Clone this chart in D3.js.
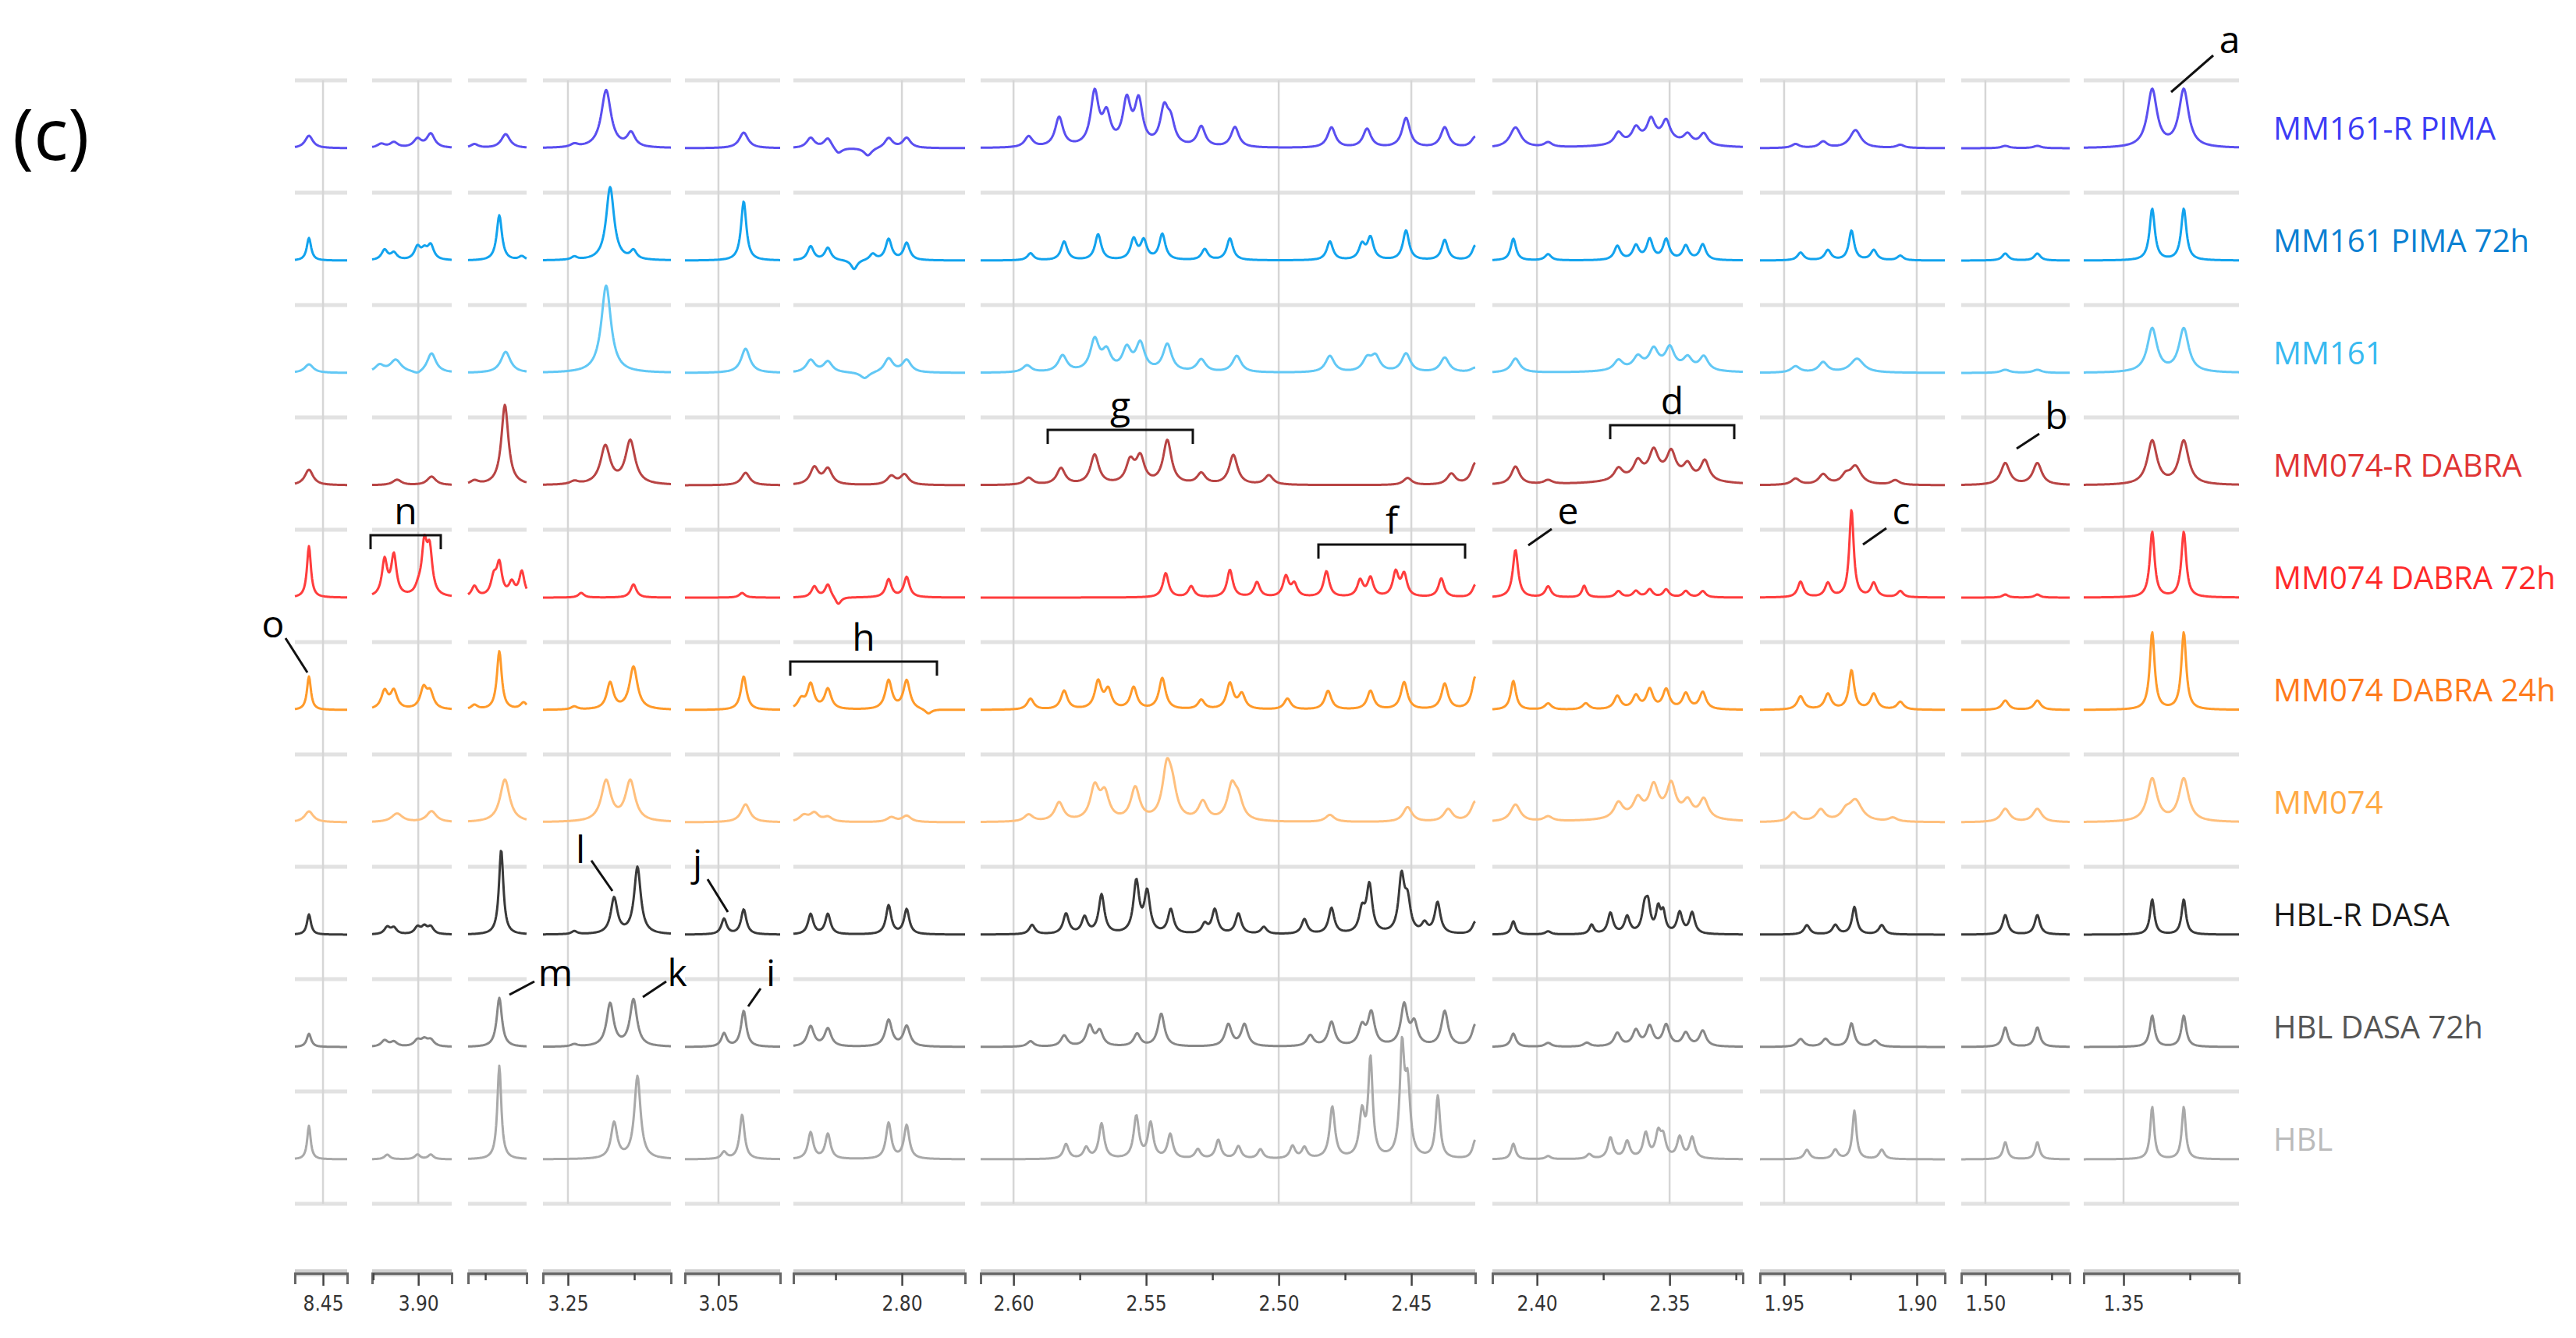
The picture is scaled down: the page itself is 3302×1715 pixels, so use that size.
<!DOCTYPE html>
<html><head><meta charset="utf-8">
<script src="https://cdn.jsdelivr.net/npm/d3@7/dist/d3.min.js"></script>
<style>body{margin:0;background:#fff}</style></head>
<body><svg id="c" width="3302" height="1715"></svg>
<script>
// ---------- DATA ----------
const samples = ["MM161-R PIMA","MM161 PIMA 72h","MM161","MM074-R DABRA","MM074 DABRA 72h","MM074 DABRA 24h","MM074","HBL-R DASA","HBL DASA 72h","HBL"];
const lineColors = ["#5a4ff0","#12a3ee","#62c8f5","#b84444","#ff3d3d","#ff9a2a","#ffc07e","#3a3a3a","#888888","#a9a9a9"];
const textColors = ["#3c3cf5","#0a80d2","#38baf0","#e03434","#ff2a2a","#ff7a1a","#ffaa44","#1a1a1a","#555555","#bbbbbb"];
const panelDomains = [[8.4606,8.4409],[3.9174,3.8874],[3.5815,3.5594],[3.2594,3.2112],[3.0626,3.0268],[2.8409,2.7762],[2.6124,2.4259],[2.4168,2.3224],[1.9591,1.8894],[1.5091,1.4682],[1.365,1.3065]];
const majorTicks = [[8.45],[3.90],[],[3.25],[3.05],[2.80],[2.60,2.55,2.50,2.45],[2.40,2.35],[1.95,1.90],[1.50],[1.35]];
const minorTicks = [[],[3.917],[3.575],[3.225],[],[2.825],[2.575,2.525,2.475],[2.375,2.325],[1.925],[1.475],[1.325]];
// peaks per sample: [ppm, intensity, optional half-width ppm]
const peaks = [
 [[8.4553,16],[3.9140,5],[3.9092,7],[3.9003,11],[3.8953,18],[3.5791,5],[3.5673,18,.002],[3.2476,4],[3.2356,74,.0022],[3.2262,18],
  [3.0405,20,.002],[2.8344,13],[2.8279,13],[2.8128,-10],[2.8050,13],[2.7982,13],[2.8240,-8],
  [2.5943,14],[2.5828,38],[2.5694,68],[2.5649,38],[2.5573,56],[2.5528,56],[2.5432,45],[2.5407,28],[2.5292,26],[2.5165,26],[2.4801,26],[2.4667,24],[2.4520,38],[2.4374,26],[2.4259,14],
  [2.4081,26,.0025],[2.3958,6],[2.3693,15],[2.3627,18],[2.3570,26],[2.3513,25],[2.3432,12],[2.3371,15],[2.355,10,.012],
  [1.9457,5],[1.9353,8],[1.9231,23,.0025],[1.9062,4],[1.4925,3],[1.4804,3],[1.3392,74,.0022],[1.3273,74,.0022]],
 [[8.4553,29,.001],[3.9127,13],[3.9092,9],[3.9003,16],[3.8977,11],[3.8953,18],[3.5697,58,.0012],[3.5612,5],[3.2476,4],[3.2341,94,.0018],[3.2253,11],
  [3.0405,76,.0012],[2.8344,18],[2.8279,16],[2.8180,-12],[2.8110,8],[2.8050,27],[2.7982,22],
  [2.5936,9],[2.5809,24],[2.5681,33],[2.5547,26],[2.5509,24],[2.5439,33],[2.5279,14],[2.5184,28],[2.4807,24],[2.4686,19],[2.4654,28],[2.4520,38],[2.4374,26],[2.4259,19],
  [2.4089,28,.0012],[2.3958,8],[2.3697,18],[2.3627,18],[2.3575,26],[2.3513,26],[2.3439,18],[2.3375,20],
  [1.9438,10],[1.9335,13],[1.9246,38,.0012],[1.9162,13],[1.9062,6],[1.4925,9],[1.4804,9],[1.3392,66,.0012],[1.3273,66,.0012]],
 [[8.4553,11],[3.9146,9],[3.9085,16,.0025],[3.8950,25,.002],[3.9003,-4],[3.5673,27,.0022],[3.2356,112,.0022],[3.0398,31,.002],
  [2.8344,16],[2.8279,14],[2.8050,18],[2.7982,16],[2.8140,-8],
  [2.5949,9],[2.5815,21],[2.5694,40],[2.5649,24],[2.5573,28],[2.5522,35],[2.5420,35],[2.5292,16],[2.5158,21],[2.4807,21],[2.4667,16],[2.4635,19],[2.4520,24],[2.4374,19],[2.4259,6],
  [2.4081,18,.002],[2.3693,13],[2.3620,15],[2.3560,23],[2.3499,26],[2.3432,15],[2.3371,18],[2.355,6,.012],
  [1.9457,8],[1.9353,13,.002],[1.9225,18,.003],[1.4925,4],[1.4804,4],[1.3392,56,.0022],[1.3273,56,.0022]],
 [[8.4553,20],[3.9080,7,.002],[3.8950,11,.002],[3.5791,5],[3.5676,103,.0016],[3.2476,4],[3.2359,49,.0022],[3.2265,56,.0022],[3.0398,16],
  [2.8330,22],[2.8279,20],[2.8040,11],[2.7990,13],
  [2.5943,9],[2.5821,21],[2.5694,38],[2.5560,28],[2.5522,33],[2.5420,56],[2.5292,14],[2.5171,38],[2.5037,12],[2.4514,9],[2.4349,14],[2.4259,28],
  [2.4081,23],[2.3958,5],[2.3693,15],[2.3620,20],[2.3560,31,.002],[2.3494,31,.002],[2.3432,18],[2.3367,26],[2.355,12,.014],
  [1.9457,8],[1.9353,13,.002],[1.9231,23,.0025],[1.9268,10],[1.9081,6],[1.4925,28,.002],[1.4804,28,.002],[1.3392,56,.0022],[1.3273,56,.0022]],
 [[8.4553,66,.0009],[3.9127,46,.0012],[3.9092,52,.0012],[3.9000,8],[3.8977,63,.0012],[3.8957,55,.0012],[3.5791,14],[3.5718,23],[3.5697,40,.0012],[3.5650,17],[3.5612,32,.0012],
  [3.2450,6],[3.2253,17],[3.0411,6],[2.8330,14],[2.8279,17],[2.8240,-10],[2.8050,23],[2.7982,26],
  [2.5426,31],[2.5330,14],[2.5184,35],[2.5082,19],[2.4973,26],[2.4941,16],[2.4820,33],[2.4693,21],[2.4654,24],[2.4559,31],[2.4527,28],[2.4387,24],[2.4259,16],
  [2.4081,61,.0012],[2.3958,14],[2.3822,15,.001],[2.3693,8],[2.3627,8],[2.3575,10],[2.3513,10],[2.3439,8],[2.3375,8],
  [1.9438,20],[1.9335,18],[1.9246,112,.001],[1.9162,18],[1.9062,8],[1.4925,4],[1.4804,4],[1.3392,84,.0011],[1.3273,84,.0011]],
 [[8.4553,43,.0009],[3.9127,23],[3.9092,23],[3.8980,26],[3.8955,20],[3.5791,6],[3.5697,75,.0011],[3.5605,9],[3.2476,4],[3.2341,34],[3.2253,55,.0018],
  [3.0405,43,.0013],[2.8380,12],[2.8344,32],[2.8279,26],[2.8050,37],[2.7982,37],[2.7900,-6],
  [2.5936,14],[2.5809,24],[2.5681,35],[2.5643,24],[2.5547,28],[2.5439,40],[2.5292,12],[2.5184,33],[2.5139,19],[2.4967,14],[2.4814,24],[2.4654,24],[2.4527,35],[2.4374,33],[2.4259,42],
  [2.4089,37,.0012],[2.3958,8],[2.3816,8],[2.3697,17],[2.3627,17],[2.3575,25],[2.3513,25],[2.3439,20],[2.3375,22],
  [1.9438,17],[1.9335,20],[1.9246,50,.0012],[1.9162,20],[1.9062,10],[1.4925,12],[1.4804,12],[1.3392,99,.0011],[1.3273,99,.0011]],
 [[8.4553,14],[3.9080,11,.0025],[3.8950,14,.0022],[3.5676,55,.0022],[3.2356,52,.0022],[3.2265,52,.0022],[3.0398,23,.002],
  [2.8370,8],[2.8330,11],[2.8279,6],[2.8040,6],[2.7982,8],
  [2.5943,9],[2.5828,24],[2.5694,42],[2.5656,33],[2.5541,42],[2.5422,63],[2.5401,33],[2.5286,24],[2.5177,42],[2.5152,24],[2.4807,9],[2.4514,19],[2.4361,16],[2.4259,26],
  [2.4081,22,.0022],[2.3958,6],[2.3693,20,.002],[2.3620,22],[2.3560,37,.002],[2.3494,40,.002],[2.3432,20],[2.3371,25,.002],[2.355,8,.014],
  [1.9465,12],[1.9362,15,.002],[1.9231,27,.003],[1.9268,10],[1.9090,5],[1.4925,17,.002],[1.4804,17,.002],[1.3392,55,.0022],[1.3273,55,.0022]],
 [[8.4553,26,.0009],[3.9117,9],[3.9092,8],[3.9003,9],[3.8977,9],[3.8953,9],[3.5690,109,.001],[3.2476,4],[3.2326,46,.0015],[3.2238,86,.0015],
  [3.0479,20,.0012],[3.0405,32,.0012],[2.8344,26,.0012],[2.8279,26,.0012],[2.8050,37,.0012],[2.7982,32,.0012],
  [2.5930,12],[2.5802,26],[2.5732,21],[2.5668,50],[2.5537,66],[2.5496,52],[2.5407,31],[2.5279,12],[2.5241,31],[2.5152,26],[2.5056,9],[2.4903,19],[2.4801,33],[2.4686,28],[2.4658,61],[2.4537,71],[2.4514,38],[2.4450,12],[2.4401,40],[2.4259,16],
  [2.4089,17,.001],[2.3958,4],[2.3794,12,.001],[2.3723,27,.0012],[2.3660,22,.0012],[2.3594,32,.0012],[2.3581,30,.001],[2.3543,30,.001],[2.3524,25,.001],[2.3462,27,.0012],[2.3415,27,.0012],
  [1.9414,12],[1.9307,12],[1.9235,35,.0011],[1.9132,12],[1.4925,25,.0012],[1.4804,25,.0012],[1.3392,45,.001],[1.3273,45,.001]],
 [[8.4553,17,.001],[3.9127,8],[3.9092,6],[3.9003,8],[3.8977,8],[3.8953,8],[3.5697,63,.0012],[3.2476,3],[3.2341,55,.0016],[3.2253,60,.0016],
  [3.0479,17,.0012],[3.0405,46,.0012],[2.8344,26],[2.8279,23],[2.8050,34],[2.7982,26],
  [2.5936,7],[2.5809,14],[2.5713,26],[2.5675,19],[2.5534,16],[2.5443,42],[2.5190,28],[2.5129,28],[2.4881,14],[2.4801,31],[2.4686,24],[2.4651,42],[2.4527,52],[2.4489,28],[2.4374,45],[2.4259,28],
  [2.4089,17,.0012],[2.3958,5],[2.3812,5],[2.3697,17],[2.3627,20],[2.3575,25],[2.3513,27],[2.3439,17],[2.3375,20],
  [1.9438,10],[1.9344,10],[1.9246,30,.0012],[1.9157,8],[1.4925,25,.0012],[1.4804,25,.0012],[1.3392,40,.0011],[1.3273,40,.0011]],
 [[8.4553,43,.0008],[3.9117,6],[3.9003,6],[3.8953,6],[3.5697,120,.0009],[3.2326,46,.0014],[3.2238,106,.0014],[3.0479,9],[3.0411,57,.0011],
  [2.8344,34,.0012],[2.8279,32,.0012],[2.8050,46,.0012],[2.7982,43,.0012],
  [2.5802,19],[2.5726,14],[2.5668,45],[2.5537,54],[2.5483,45],[2.5409,31],[2.5305,12],[2.5228,24],[2.5152,16],[2.5069,12],[2.4948,16],[2.4903,14],[2.4798,66],[2.4686,56],[2.4654,125,.001],[2.4535,134,.001],[2.4514,89],[2.4400,80,.001],[2.4259,24],
  [2.4089,20,.001],[2.3958,4],[2.3803,6],[2.3723,27,.0012],[2.3660,22],[2.3590,32],[2.3543,30],[2.3524,25],[2.3462,27],[2.3415,27],
  [1.9414,12],[1.9307,12],[1.9235,62,.0009],[1.9132,12],[1.4925,22,.001],[1.4804,22,.001],[1.3392,67,.0009],[1.3273,67,.0009]]
];
const rowWidth = [.0018,.0014,.0020,.0019,.0013,.0015,.0020,.0013,.0015,.0012];
const annoLetters = [
 {t:"a",x:2858,y:51,l:[2783,118,2837,71]},{t:"b",x:2636,y:533,l:[2585,575,2614,556]},
 {t:"c",x:2437,y:655,l:[2388,698,2418,677]},{t:"e",x:2010,y:655,l:[1959,699,1989,678]},
 {t:"o",x:350,y:800,l:[366,818,394,862]},{t:"l",x:744,y:1089,l:[758,1103,785,1142]},
 {t:"j",x:894,y:1106,l:[907,1127,933,1169]},{t:"m",x:712,y:1247,l:[685,1258,653,1275]},
 {t:"k",x:868,y:1247,l:[854,1258,824,1278]},{t:"i",x:988,y:1247,l:[975,1267,959,1290]}];
const brackets = [{t:"d",x0:2064,x1:2223,y:545},{t:"f",x0:1690,x1:1878,y:698},{t:"g",x0:1343,x1:1529,y:551},{t:"h",x0:1013,x1:1201,y:848},{t:"n",x0:475,x1:565,y:686}];

// ---------- LAYOUT ----------
const panelPx = [[378,445],[477,579],[600,675],[696,860],[878,1000],[1017,1237],[1257,1891],[1913,2234],[2256,2493],[2514,2653],[2671,2870]];
const svg = d3.select("#c");
const rowY = d3.scaleLinear().domain([0,9]).range([190,1486]);
const gridY = d3.scaleLinear().domain([0,10]).range([103,1543]);
const amp = d3.scaleLinear().domain([0,100]).range([0,-100]);
const axisY = 1632;

panelDomains.forEach((dom,p)=>{
  const x = d3.scaleLinear().domain(dom).range(panelPx[p]);
  const g = svg.append("g");
  d3.range(11).forEach(i=>g.append("line").attr("x1",panelPx[p][0]).attr("x2",panelPx[p][1])
     .attr("y1",gridY(i)).attr("y2",gridY(i)).attr("stroke","#e2e2e2").attr("stroke-width",5));
  majorTicks[p].forEach(v=>g.append("line").attr("x1",x(v)).attr("x2",x(v)).attr("y1",gridY(0)).attr("y2",gridY(10))
     .attr("stroke","#d6d6d6").attr("stroke-width",2.5));
  samples.forEach((s,r)=>{
    const pk = peaks[r].filter(d=>d[0]<=dom[0]+1e-6 && d[0]>=dom[1]-1e-6);
    const pts = d3.range(panelPx[p][0],panelPx[p][1]+1,1).map(px=>{
      const ppm = x.invert(px);
      let v=0; pk.forEach(d=>{const w=d[2]||rowWidth[r]; const u=(ppm-d[0])/w; v+=d[1]/(1+u*u);});
      return [ppm,v];
    });
    g.append("path").datum(pts).attr("fill","none").attr("stroke",lineColors[r]).attr("stroke-width",3)
     .attr("stroke-linejoin","round")
     .attr("d",d3.line().x(d=>x(d[0])).y(d=>rowY(r)+amp(d[1])));
  });
  g.append("rect").attr("x",panelPx[p][0]).attr("width",panelPx[p][1]-panelPx[p][0]).attr("y",axisY-5).attr("height",9).attr("fill","#cfcfcf");
  const ax = d3.axisBottom(x).tickValues(majorTicks[p].concat(minorTicks[p])).tickSize(14).tickPadding(16)
     .tickFormat(v=>majorTicks[p].includes(v)?d3.format(".2f")(v):"");
  const ag = g.append("g").attr("transform",`translate(0,${axisY})`).call(ax);
  ag.select(".domain").attr("stroke","#666").attr("stroke-width",3);
  ag.selectAll(".tick line").attr("stroke","#444").attr("stroke-width",2.5)
    .attr("y2",v=>majorTicks[p].includes(v)?16:9);
  ag.selectAll(".tick text").attr("fill","#333").style("font-family","'DejaVu Sans Condensed','DejaVu Sans'").style("font-size","26px");
});

samples.forEach((s,r)=>svg.append("text").attr("x",2914).attr("y",rowY(r)-25).attr("dy","0.35em")
  .attr("fill",textColors[r]).style("font-family","'Open Sans'").style("font-size","40px").text(s));

svg.append("text").attr("x",16).attr("y",205).style("font-family","'Open Sans'").style("font-size","92px").text("(c)");

annoLetters.forEach(a=>{
  svg.append("line").attr("x1",a.l[0]).attr("y1",a.l[1]).attr("x2",a.l[2]).attr("y2",a.l[3]).attr("stroke","#111").attr("stroke-width",3);
  svg.append("text").attr("x",a.x).attr("y",a.y).attr("text-anchor","middle").attr("dy","0.35em")
    .style("font-family","'Open Sans'").style("font-size","48px").text(a.t);
});
brackets.forEach(b=>{
  svg.append("path").attr("d",`M${b.x0},${b.y+18}V${b.y}H${b.x1}V${b.y+18}`).attr("fill","none").attr("stroke","#111").attr("stroke-width",3);
  svg.append("text").attr("x",(b.x0+b.x1)/2).attr("y",b.y-14).attr("text-anchor","middle")
    .style("font-family","'Open Sans'").style("font-size","48px").text(b.t);
});
</script></body></html>
